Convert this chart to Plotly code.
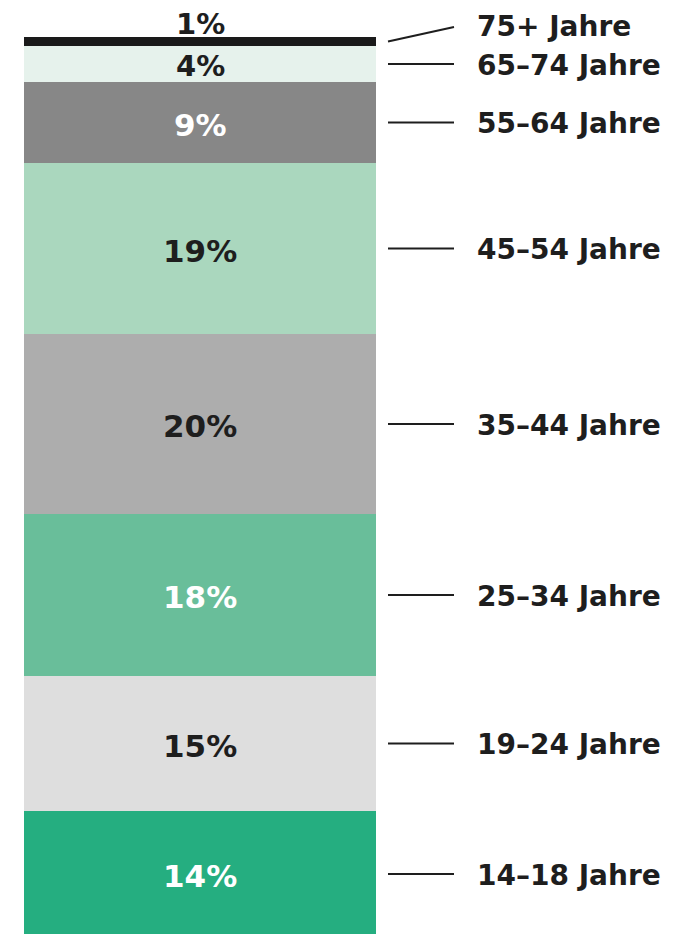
import plotly.graph_objects as go

# Data (bottom to top)
age_groups = ["14–18 Jahre", "19–24 Jahre", "25–34 Jahre", "35–44 Jahre",
              "45–54 Jahre", "55–64 Jahre", "65–74 Jahre", "75+ Jahre"]
shares = [14, 15, 18, 20, 19, 9, 4, 1]
pct_labels = ["14%", "15%", "18%", "20%", "19%", "9%", "4%", "1%"]

# Styles
colors = ["#25ae80", "#dedede", "#69be9a", "#adadad", "#aad7be", "#878787", "#e6f2ec", "#1a1a1a"]
text_colors = ["white", "#1e1e1e", "white", "#1e1e1e", "#1e1e1e", "white", "#1e1e1e", "#1e1e1e"]

OFF = 8  # page body margin
W, H = 688 - OFF, 934 - OFF
FONT = "DejaVu Sans"
DARK = "#1e1e1e"

# axis ranges mapping (page px): bar spans x 24..376, 9 px per percent, 0 at y=937
px_per_x = 352.0
x0 = -0.5 - (24 - OFF) / px_per_x
x1 = x0 + W / px_per_x
px_per_y = 9.0
y1 = 100 + (37 - OFF) / px_per_y
y0 = y1 - H / px_per_y

def xpx(p):
    return x0 + (p - OFF) / px_per_x

fig = go.Figure()
for g, v, c in zip(age_groups, shares, colors):
    fig.add_trace(go.Bar(x=[0], y=[v], name=g, marker=dict(color=c, line=dict(width=0)),
                         width=1, hoverinfo="skip", showlegend=False))

annotations = []
shapes = []
cum = 0
n = len(shares)
LBL = 28
PCT = 31
for i, (g, v, lab, tc) in enumerate(zip(age_groups, shares, pct_labels, text_colors)):
    mid = cum + v / 2
    top = cum + v
    cum = top
    if i == n - 1:
        annotations.append(dict(x=0, y=top + 1.5, text=lab, showarrow=False,
                                yanchor="middle", yshift=0,
                                font=dict(family=FONT, size=PCT - 2, color=DARK, weight="bold")))
        shapes.append(dict(type="line", x0=xpx(388), x1=xpx(454), y0=mid, y1=top + 1.1,
                           line=dict(color=DARK, width=2)))
        annotations.append(dict(x=xpx(475), y=1, yref="paper", text=g, showarrow=False,
                                xanchor="left", yanchor="top", yshift=0,
                                font=dict(family=FONT, size=LBL, color=DARK, weight="bold")))
    else:
        annotations.append(dict(x=0, y=mid, text=lab, showarrow=False, yanchor="middle",
                                yshift=-2,
                                font=dict(family=FONT, size=PCT if v > 5 else PCT - 2, color=tc, weight="bold")))
        shapes.append(dict(type="line", x0=xpx(388), x1=xpx(454), y0=mid, y1=mid,
                           line=dict(color=DARK, width=2)))
        annotations.append(dict(x=xpx(475), y=mid, text=g, showarrow=False, xanchor="left",
                                yanchor="middle", yshift=-1,
                                font=dict(family=FONT, size=LBL, color=DARK, weight="bold")))

fig.update_layout(
    width=W, height=H, barmode="stack", bargap=0,
    margin=dict(l=0, r=0, t=0, b=0),
    paper_bgcolor="white", plot_bgcolor="white",
    xaxis=dict(range=[x0, x1], visible=False, fixedrange=True),
    yaxis=dict(range=[y0, y1], visible=False, fixedrange=True),
    annotations=annotations, shapes=shapes,
)
fig.write_html("out.html")
